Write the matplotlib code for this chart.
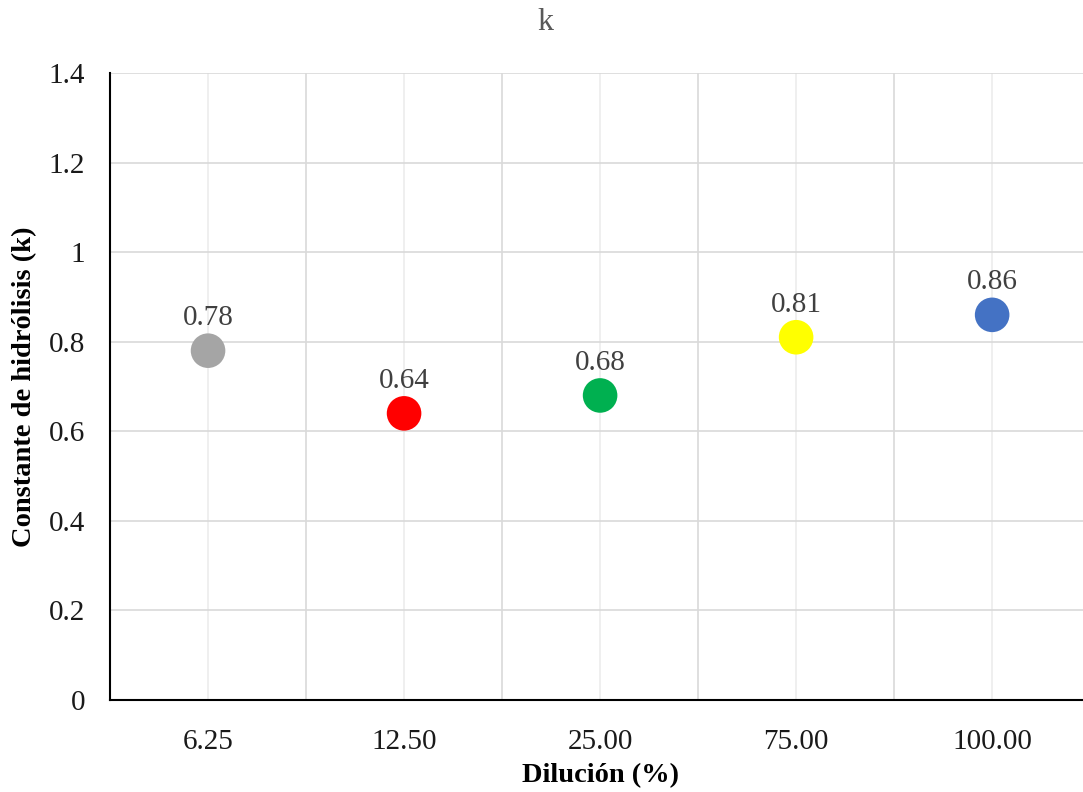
import matplotlib.pyplot as plt
from matplotlib.ticker import FixedLocator

plt.rcParams['font.family'] = ['Liberation Serif', 'DejaVu Serif']

categories = ['6.25', '12.50', '25.00', '75.00', '100.00']
k_values = [0.78, 0.64, 0.68, 0.81, 0.86]
colors = ['#a5a5a5', '#ff0000', '#00b050', '#ffff00', '#4472c4']
y_ticks = [0, 0.2, 0.4, 0.6, 0.8, 1.0, 1.2, 1.4]
y_tick_labels = ['0', '0.2', '0.4', '0.6', '0.8', '1', '1.2', '1.4']

fig = plt.figure(figsize=(10.83, 7.92), dpi=100)
ax = fig.add_axes([0.1016, 0.1162, 0.905, 0.7916])

xs = list(range(1, len(categories) + 1))
ax.scatter(xs, k_values, s=620, c=colors, zorder=3, linewidths=0)
for x, v in zip(xs, k_values):
    ax.annotate(f'{v:.2f}', (x, v), xytext=(0, 14), textcoords='offset points',
                ha='center', va='bottom', fontsize=21, color='#404040')

ax.set_xlim(0.5, 5.5)
ax.set_ylim(0, 1.4)
ax.set_xticks(xs)
ax.set_xticklabels(categories)
ax.set_yticks(y_ticks)
ax.set_yticklabels(y_tick_labels)
ax.xaxis.set_minor_locator(FixedLocator([x + 0.5 for x in xs]))

ax.grid(axis='y', color='#d9d9d9', linewidth=1.2, zorder=0)
ax.grid(axis='x', which='major', color='#ececec', linewidth=1.2, zorder=0)
ax.grid(axis='x', which='minor', color='#d9d9d9', linewidth=1.2, zorder=0)
ax.set_axisbelow(True)

ax.tick_params(axis='both', which='both', length=0, labelsize=21, colors='#1a1a1a')
ax.tick_params(axis='x', pad=21)
ax.tick_params(axis='y', pad=18)

for side in ['top', 'right']:
    ax.spines[side].set_visible(False)
for side in ['left', 'bottom']:
    ax.spines[side].set_color('black')
    ax.spines[side].set_linewidth(1.5)

ax.set_xlabel('Dilución (%)', fontsize=20.5, fontweight='bold', labelpad=6)
ax.set_ylabel('Constante de hidrólisis (k)', fontsize=20.5, fontweight='bold', labelpad=8)
fig.text(0.5035, 0.972, 'k', ha='center', va='center', fontsize=23, color='#595959')

fig.savefig('out.png', dpi=100)
